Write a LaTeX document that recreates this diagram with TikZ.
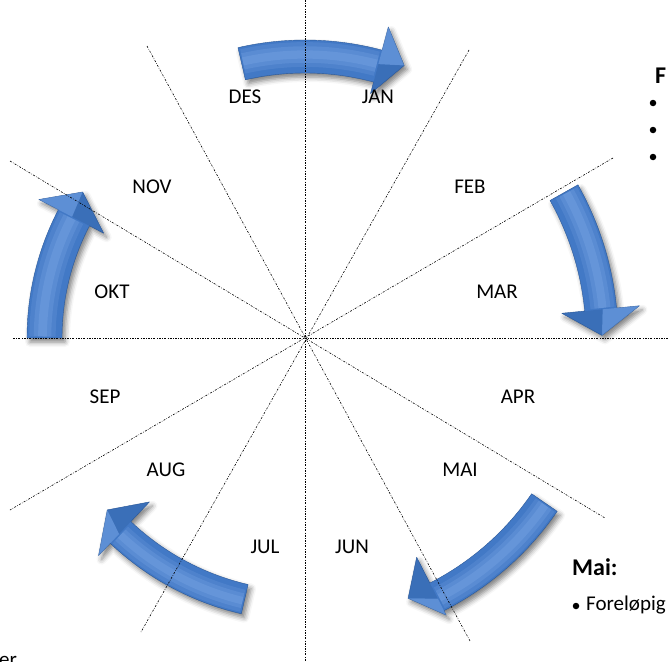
\documentclass[tikz,border=0pt]{standalone}
\usepackage{fontspec}
\setmainfont{Carlito}
\usetikzlibrary{shadows.blur}
\definecolor{arrblue}{HTML}{4279C6}
\definecolor{arrdark}{HTML}{2A5898}
\definecolor{arrlight}{HTML}{86B0EC}
\tikzset{
  guide/.style={line width=0.6pt, dash pattern=on 2pt off 1.4pt on 0.6pt off 1.4pt},
  month/.style={font=\fontsize{21}{25}\selectfont, inner sep=0pt},
  note/.style={font=\fontsize{21}{25}\selectfont, inner sep=0pt, anchor=west},
  bulletdot/.style={circle, fill=black, inner sep=0pt, minimum size=6.5pt},
  notehead/.style={font=\fontsize{24}{28}\selectfont\bfseries, inner sep=0pt, anchor=west},
  arrowbody/.style={fill=arrblue, draw=arrdark, line width=0.4pt, line join=round,
    blur shadow={shadow xshift=3pt, shadow yshift=-4pt, shadow blur radius=5pt, shadow opacity=50}},
  gloss/.style={draw=arrlight, line cap=butt},
  facetlight/.style={fill=arrlight, opacity=0.4},
  facetdark/.style={fill=arrdark, opacity=0.3},
}
% a0 a1 rin rout hin hout atip rtip
\newcommand\cyclarrow[8]{%
  \path[arrowbody] (#1:#4) arc[start angle=#1,end angle=#2,radius=#4] -- (#2:#6) -- (#7:#8) -- (#2:#5) -- (#2:#3) arc[start angle=#2,end angle=#1,radius=#3] -- cycle;
  \pgfmathsetmacro\rmid{(#3+#4)/2+2}%
  \pgfmathsetmacro\gwa{0.75*(#4-#3)}%
  \pgfmathsetmacro\gwb{0.5*(#4-#3)}%
  \pgfmathsetmacro\gwc{0.25*(#4-#3)}%
  \pgfmathsetmacro\ainn{#1+0.012*(#2-#1)}%
  \pgfmathsetmacro\aout{#2-0.012*(#2-#1)}%
  \draw[gloss, opacity=0.18, line width=\gwa pt] (\ainn:\rmid) arc[start angle=\ainn,end angle=\aout,radius=\rmid];
  \draw[gloss, opacity=0.22, line width=\gwb pt] (\ainn:\rmid) arc[start angle=\ainn,end angle=\aout,radius=\rmid];
  \draw[gloss, opacity=0.25, line width=\gwc pt] (\ainn:\rmid) arc[start angle=\ainn,end angle=\aout,radius=\rmid];
  \path[facetlight] (#2:\rmid) -- (#7:#8) -- (#2:#6) -- cycle;
  \path[facetdark] (#2:\rmid) -- (#7:#8) -- (#2:#5) -- cycle;
}
\begin{document}
\begin{tikzpicture}[x=1pt,y=-1pt]
\useasboundingbox (0,0) rectangle (668,661);
\coordinate (C) at (305,338);

% arrows
\begin{scope}[shift={(C)}]
  \cyclarrow{-103}{-75}{265}{298}{253}{322}{-70}{290}
  \cyclarrow{-29.3}{-5.5}{281}{313}{258}{336}{-0.5}{297}
  \cyclarrow{34.5}{63}{275}{306}{246}{311}{68.4}{280}
  \cyclarrow{103}{133.5}{253}{283}{226}{300}{139}{262}
  \cyclarrow{180}{207.5}{243}{278}{227}{300}{213.3}{266}
\end{scope}

% guide lines
\coordinate (vt) at (305,0);   \coordinate (vb) at (305,661);
\coordinate (hl) at (13,338);  \coordinate (hr) at (668,338);
\coordinate (a1) at (10,161);  \coordinate (a2) at (605,518);
\coordinate (b1) at (613,158); \coordinate (b2) at (10,510);
\coordinate (c1) at (147,46);  \coordinate (c2) at (470,641);
\coordinate (d1) at (469,50);  \coordinate (d2) at (141,632);
\draw[guide] (vt) -- (vb);
\draw[guide] (hl) -- (hr);
\draw[guide] (a1) -- (a2);
\draw[guide] (b1) -- (b2);
\draw[guide] (c1) -- (c2);
\draw[guide] (d1) -- (d2);

% month labels
\node[month] (des) at (245,97) {DES};
\node[month] (jan) at (378,97) {JAN};
\node[month] (nov) at (152,187) {NOV};
\node[month] (feb) at (470,187) {FEB};
\node[month] (okt) at (112,292) {OKT};
\node[month] (mar) at (497,292) {MAR};
\node[month] (sep) at (105,397) {SEP};
\node[month] (apr) at (518,397) {APR};
\node[month] (aug) at (166,470) {AUG};
\node[month] (mai) at (460,470) {MAI};
\node[month] (jul) at (265,547) {JUL};
\node[month] (jun) at (352,547) {JUN};

% side notes
\node[notehead] (fhead) at (655,76) {F};
\node[bulletdot] (fb1) at (653,103) {};
\node[bulletdot] (fb2) at (653,130) {};
\node[bulletdot] (fb3) at (653,157) {};
\node[notehead] (maihead) at (572,567) {Mai:};
\node[bulletdot] (maib) at (576,606) {};
\node[note] (maitxt) at (586,605) {Foreløpig};
\node[note, anchor=base west] (er) at (-1,666) {er};
\end{tikzpicture}
\end{document}
